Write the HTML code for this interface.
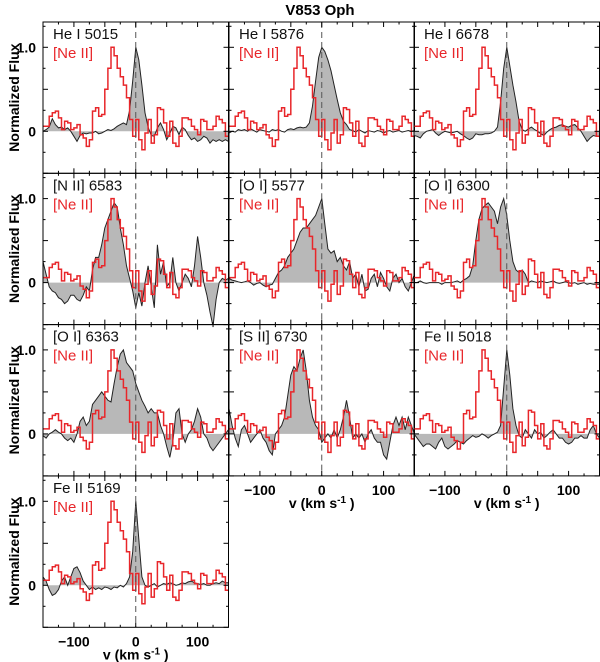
<!DOCTYPE html>
<html><head><meta charset="utf-8">
<style>
html,body{margin:0;padding:0;background:#fff;}
svg{display:block;font-family:"Liberation Sans",Arial,sans-serif;}
</style></head>
<body>
<svg id="fig" width="600" height="662" viewBox="0 0 600 662" xmlns="http://www.w3.org/2000/svg">
<text x="320" y="15" text-anchor="middle" font-size="15" font-weight="bold">V853 Oph</text>
</svg>
<script>
// velocity grid (km/s) shared by every profile
const velocities = [-150,-145,-140,-135,-130,-125,-120,-115,-110,-105,-100,-95,-90,-85,-80,-75,-70,-65,-60,-55,-50,-45,-40,-35,-30,-25,-20,-15,-10,-5,0,5,10,15,20,25,30,35,40,45,50,55,60,65,70,75,80,85,90,95,100,105,110,115,120,125,130,135,140,145,150];
// [Ne II] binned profile (bin starts at velocities[i], 5 km/s wide)
const neII = [0.06,0.06,0.18,0.22,0.24,0.16,0.02,0.12,0.10,0.02,0.04,0.08,-0.04,-0.08,-0.18,-0.10,0.24,0.28,0.18,0.20,0.50,0.75,1.00,0.90,0.75,0.65,0.55,0.40,0.14,-0.06,0.14,-0.10,-0.22,-0.02,0.14,-0.14,-0.04,0.28,0.26,0.10,-0.06,0.12,-0.14,-0.18,-0.06,0.16,0.16,0.14,0.06,0.02,-0.04,0.14,0.12,0.02,0.02,0.06,0.18,0.14,0.10,-0.06];
const panelNames = ["He I 5015","He I 5876","He I 6678","[N II] 6583","[O I] 5577","[O I] 6300","[O I] 6363","[S II] 6730","Fe II 5018","Fe II 5169"];
const heI5015 = [0,0.02,0.05,0.15,0.08,0.04,0.05,0.02,0.04,0,-0.06,-0.12,-0.05,-0.02,-0.03,-0.02,-0.02,0,-0.03,-0.02,0,0.02,0.01,0.03,0.06,0.08,0.1,0.08,0.25,0.6,1.0,0.85,0.55,0.22,0.05,-0.05,-0.06,0.04,0.1,0.02,-0.1,-0.03,0.06,0.04,-0.04,0.05,0.02,-0.05,-0.1,-0.08,-0.12,-0.1,-0.06,-0.08,-0.14,-0.1,-0.12,-0.1,-0.12,-0.1,-0.12];
const heI5876 = [-0.02,0,-0.01,0.02,0.01,0.02,0,0.03,0.01,-0.01,0.02,0.01,0,-0.01,0.02,0.01,0.02,0,-0.01,0.02,0.03,0.02,0.04,0.05,0.04,0.05,0.1,0.3,0.6,0.88,1.0,0.95,0.85,0.72,0.55,0.38,0.22,0.12,0.08,0.02,0.01,-0.01,0.02,0,-0.02,0.01,0,-0.01,0.01,0,-0.02,0,0.01,-0.01,0,0.01,-0.01,0,0.01,0,0.01];
const heI6678 = [-0.05,-0.06,-0.08,-0.03,0,0.01,0.02,-0.02,-0.05,-0.02,0,-0.01,-0.02,-0.01,0,-0.03,-0.05,-0.08,-0.1,-0.08,-0.03,-0.04,-0.04,-0.03,-0.03,-0.02,0,0.05,0.35,0.75,1.0,0.78,0.55,0.35,0.12,0.02,0,0.03,0.05,0.02,0,-0.03,-0.05,-0.01,0.02,0.04,0.05,0.07,0.08,0.06,0.05,0.07,0.08,0.04,0,-0.06,-0.12,-0.08,-0.05,-0.06,-0.06];
const nII6583 = [0.25,0.1,-0.05,-0.1,-0.12,-0.18,-0.2,-0.25,-0.22,-0.15,-0.15,-0.2,-0.22,-0.15,-0.05,-0.1,0.15,0.3,0.3,0.45,0.65,0.75,0.85,0.95,0.9,0.65,0.45,0.2,0.05,-0.1,-0.3,-0.12,-0.28,0,0.2,-0.05,-0.3,0.45,0.1,0.25,-0.05,0,0.3,0,-0.1,0,0.1,0.05,-0.05,0.2,0.55,0.3,0,-0.15,-0.35,-0.52,-0.2,0,0.05,0.03,0.05];
const oI5577 = [0.05,0.03,0.02,0.01,0,0.01,0.02,0,-0.03,-0.01,0,-0.03,-0.05,-0.03,-0.02,0.05,0.12,0.15,0.2,0.3,0.35,0.4,0.5,0.6,0.65,0.65,0.7,0.75,0.8,0.9,1.0,0.7,0.4,0.35,0.38,0.25,0.3,0.2,0.15,0.25,0.05,0.1,-0.05,0.1,-0.1,-0.08,0.05,0.1,-0.05,0.12,0.05,-0.05,-0.1,0.05,0.1,0,0.05,-0.05,-0.1,0,0.1];
const oI6300 = [0,0,0.02,0,-0.01,0,0,0,0,-0.02,0,0,0,0.01,0.02,0,0.03,0.05,0.08,0.2,0.5,0.75,0.88,0.92,0.95,0.9,0.85,0.7,0.9,1.0,0.8,0.5,0.25,0.15,0.12,0.15,0.1,0,0.02,0.01,0,0.02,0.01,0,0.01,0.02,0,-0.01,0,0.01,0,-0.01,0,-0.02,-0.01,0,-0.02,-0.01,-0.02,-0.02,-0.02];
const oI6363 = [-0.02,-0.05,0,0.02,0.05,0.02,0,-0.05,-0.08,-0.05,-0.1,0,0.15,0.2,0.1,0.15,0.35,0.4,0.45,0.5,0.45,0.4,0.38,0.6,0.8,0.95,1.0,0.85,0.8,0.75,0.6,0.5,0.4,0.33,0.25,0.3,0.25,0.25,0.1,0,-0.15,-0.28,-0.1,0.25,0.3,0,-0.1,0,0.05,0.15,0.3,0.2,0,-0.05,-0.15,-0.2,-0.15,-0.1,-0.05,0,0.05];
const sII6730 = [0.3,0.1,-0.05,-0.15,0.05,0.1,0,-0.1,-0.05,0,0.05,-0.05,-0.1,-0.2,-0.25,0,0.05,0.1,0.2,0.45,0.7,0.8,0.75,0.9,1.0,0.75,0.4,0.2,0.1,0.05,-0.1,-0.05,0,-0.05,0.05,-0.05,0.05,0.2,0.4,0.2,-0.05,0,-0.05,0,-0.1,0,0.05,-0.05,-0.1,-0.1,-0.25,-0.3,-0.1,0.1,0.2,0.1,0.2,0.05,0.2,0.1,0];
const feII5018 = [0,-0.05,-0.1,-0.15,-0.12,-0.12,-0.15,-0.18,-0.1,-0.05,-0.15,-0.18,-0.15,-0.12,-0.08,-0.1,-0.12,-0.08,-0.05,-0.02,-0.04,-0.03,0,-0.02,-0.05,-0.02,0,0.02,0.1,0.55,1.0,0.7,0.3,0.1,-0.02,-0.05,0.05,0,-0.05,0.05,0,0.02,-0.05,-0.02,0.02,0.05,0,-0.05,-0.05,-0.1,-0.12,-0.1,-0.05,-0.05,-0.02,-0.05,-0.05,0.05,0.1,0,-0.05];
const feII5169 = [0.1,0.05,-0.05,-0.12,-0.1,-0.05,0.05,0.1,0,0.1,0.2,0.22,0.15,0.05,0,-0.05,-0.02,-0.05,-0.03,-0.05,-0.02,-0.03,-0.05,-0.02,-0.03,0,-0.02,0.02,0.1,0.4,1.0,0.55,0.1,0,-0.02,0,0.02,-0.02,0,0.02,0.01,0.03,0.02,0,0.01,0.03,0.02,0.04,0.05,0.03,0.02,0.01,0.02,0,0,0.02,0.03,0.02,0.05,0.03,0.03];
const profiles = [heI5015,heI5876,heI6678,nII6583,oI5577,oI6300,oI6363,sII6730,feII5018,feII5169];
const xTicks = [-100,0,100];

const NS="http://www.w3.org/2000/svg";
const svg=document.getElementById('fig');
const colX=[43,229,414], colW=185.5;
const rowY=[22,173.3,324.6,476], rowH=151.3;
const unit=84;
function mk(t,a,p){const e=document.createElementNS(NS,t);for(const k in a)e.setAttribute(k,a[k]);(p||svg).appendChild(e);return e;}

for(let i=0;i<10;i++){
  const c=i%3, r=Math.floor(i/3);
  const x0=colX[c], y0=rowY[r];
  const xs=v=>x0+(v+150)/300*colW;
  const ys=f=>y0+rowH-(f+0.5)*unit;
  const g=mk('g',{});
  
  
  const cid='clip'+i;
  const cp=mk('clipPath',{id:cid},g);
  mk('rect',{x:x0,y:y0,width:colW,height:rowH},cp);
  const inner=mk('g',{'clip-path':'url(#'+cid+')'},g);
  const prof=profiles[i];
  let d='M'+xs(velocities[0])+','+ys(0);
  for(let k=0;k<velocities.length;k++) d+=' L'+xs(velocities[k]).toFixed(1)+','+ys(prof[k]).toFixed(1);
  d+=' L'+xs(velocities[velocities.length-1])+','+ys(0)+' Z';
  const fill=mk('path',{d:d,fill:'#b8b8b8',stroke:'none'},inner);
  
  
  let dl='';
  for(let k=0;k<velocities.length;k++) dl+=(k?' L':'M')+xs(velocities[k]).toFixed(1)+','+ys(prof[k]).toFixed(1);
  const ln=mk('path',{d:dl,fill:'none',stroke:'#222',"stroke-width":1},inner);
  
  
  let ds='';
  for(let k=0;k<neII.length;k++){
    const xa=xs(velocities[k]), xb=xs(velocities[k]+5), yv=ys(neII[k]);
    ds+=(k?' L':'M')+xa.toFixed(1)+','+yv.toFixed(1)+' L'+xb.toFixed(1)+','+yv.toFixed(1);
  }
  const st=mk('path',{d:ds,fill:'none',stroke:'#e8262a',"stroke-width":1.5},inner);
  
  
  const dz=mk('line',{x1:xs(0),x2:xs(0),y1:y0,y2:y0+rowH,stroke:'#555','stroke-dasharray':'6,4','stroke-width':1},g);
  
  
  const fr=mk('rect',{x:x0,y:y0,width:colW,height:rowH,fill:'none',stroke:'#000','stroke-width':1},g);
  
  
  for(let v=-150;v<=150;v+=25){
    const len=(v%50===0)?5:2.5;
    mk('line',{x1:xs(v),x2:xs(v),y1:y0+rowH,y2:y0+rowH-len,stroke:'#000'},g);
    mk('line',{x1:xs(v),x2:xs(v),y1:y0,y2:y0+len,stroke:'#000'},g);
  }
  for(let f=-0.5;f<=1.26;f+=0.25){
    const len=(Math.abs(f*2-Math.round(f*2))<1e-6)?5:2.5;
    mk('line',{x1:x0,x2:x0+len,y1:ys(f),y2:ys(f),stroke:'#000'},g);
    mk('line',{x1:x0+colW,x2:x0+colW-len,y1:ys(f),y2:ys(f),stroke:'#000'},g);
  }
  const t1=mk('text',{x:x0+10,y:y0+17,'font-size':15,fill:'#111'},g);
  t1.textContent=panelNames[i];
  
  
  const t2=mk('text',{x:x0+10,y:y0+36,'font-size':15,fill:'#e8262a'},g);
  t2.textContent='[Ne II]';
  
  
  if(c===0){
    const a=mk('text',{x:x0-7,y:ys(1)+5,'font-size':14,'font-weight':'bold','text-anchor':'end'},g);
    a.textContent='1.0';
    
    
    const b=mk('text',{x:x0-7,y:ys(0)+5,'font-size':14,'font-weight':'bold','text-anchor':'end'},g);
    b.textContent='0';
    
    
    const yt=mk('text',{x:0,y:0,'font-size':14,'font-weight':'bold','text-anchor':'middle',transform:'translate(19,'+(y0+rowH/2)+') rotate(-90)'},g);
    yt.textContent='Normalized Flux';
    
    
  }
  if(i>=7){
    xTicks.forEach(v=>{
      const tl=mk('text',{x:xs(v),y:y0+rowH+19,'font-size':14,'font-weight':'bold','text-anchor':'middle'},g);
      tl.textContent=String(v).replace('-','\u2212');
      
      
    });
    const xt=mk('text',{x:xs(0),y:y0+rowH+32,'font-size':14,'font-weight':'bold','text-anchor':'middle'},g);
    xt.innerHTML='v (km s<tspan dy="-5" font-size="10">-1</tspan><tspan dy="5"> )</tspan>';
    
    
  }
}
</script>
</body></html>
